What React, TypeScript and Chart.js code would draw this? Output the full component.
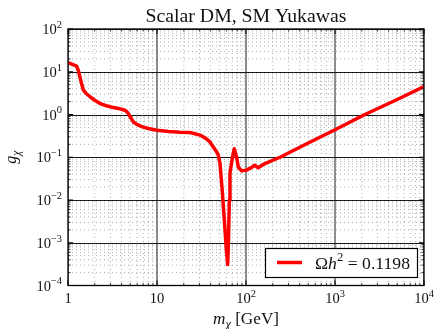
import React, { useEffect, useRef } from 'react';
import { Chart, registerables } from 'chart.js';

Chart.register(...registerables);

// ---- data ----
const massGeV = [
  1.0, 1.12, 1.25, 1.31, 1.36, 1.42, 1.49, 1.6, 1.77, 2.0, 2.29, 2.7, 3.23, 3.8, 4.37, 4.6, 4.76,
  5.05, 5.42, 6.0, 6.73, 8.0, 9.93, 13.5, 18.1, 23.5, 30.4, 35.0, 39.4, 42.9, 46.9, 48.9, 51.0,
  53.7, 57.1, 60.2, 62.3, 63.6, 64.9, 66.1, 70.4, 73.7, 78.5, 81.9, 89.3, 101, 115, 125, 137,
  163, 241, 500, 1000, 2170, 5000, 10000,
];
const coupling = [
  16.3, 14.9, 13.6, 10.5, 7.6, 5.3, 3.7, 3.1, 2.6, 2.15, 1.8, 1.6, 1.46, 1.36, 1.26, 1.15, 1.05,
  0.85, 0.67, 0.58, 0.52, 0.47, 0.43, 0.4, 0.384, 0.38, 0.33, 0.28, 0.228, 0.174, 0.133, 0.111, 0.072,
  0.02, 0.0034, 0.00068, 0.00031, 0.0012, 0.01, 0.043, 0.1, 0.158, 0.1, 0.059, 0.048, 0.05, 0.057, 0.065, 0.057,
  0.071, 0.1, 0.216, 0.44, 1.0, 2.24, 4.5,
];

const xTickExponents = [0, 1, 2, 3, 4];
const xTickBase = ['1', '10', '10', '10', '10'];
const xTickSup = ['', '', '2', '3', '4'];
const yTickExponents = [-4, -3, -2, -1, 0, 1, 2];
const yTickBase = ['10', '10', '10', '10', '10', '10', '10'];
const yTickSup = ['\u22124', '\u22123', '\u22122', '\u22121', '0', '1', '2'];

const titleText = 'Scalar DM, SM Yukawas';
const seriesName = '\u03A9h\u00B2 = 0.1198';

const FAMILY = '"Liberation Serif", "DejaVu Serif", serif';

type Seg = { t: string; rel: number; italic?: boolean; dy?: number };

function segFont(s: Seg, size: number) {
  return `${s.italic ? 'italic ' : ''}${(size * s.rel).toFixed(2)}px ${FAMILY}`;
}

function measureSegs(ctx: CanvasRenderingContext2D, segs: Seg[], size: number) {
  return segs.map((s) => {
    ctx.font = segFont(s, size);
    return ctx.measureText(s.t).width;
  });
}

function fitSize(ctx: CanvasRenderingContext2D, segs: Seg[], target: number) {
  const w = measureSegs(ctx, segs, 10).reduce((a, b) => a + b, 0);
  return (10 * target) / w;
}

function drawSegs(
  ctx: CanvasRenderingContext2D,
  segs: Seg[],
  size: number,
  x: number,
  y: number,
  align: 'left' | 'center' | 'right',
) {
  const widths = measureSegs(ctx, segs, size);
  const total = widths.reduce((a, b) => a + b, 0);
  let cx = align === 'left' ? x : align === 'center' ? x - total / 2 : x - total;
  ctx.textAlign = 'left';
  ctx.textBaseline = 'alphabetic';
  segs.forEach((s, i) => {
    ctx.font = segFont(s, size);
    ctx.fillText(s.t, cx, y + (s.dy || 0) * size);
    cx += widths[i];
  });
}

const decorPlugin = {
  id: 'decor',
  beforeDatasetsDraw(chart: any) {
    const { ctx, chartArea: a } = chart;
    const xs = chart.scales.x;
    const ys = chart.scales.y;
    ctx.save();
    ctx.beginPath();
    ctx.rect(a.left, a.top, a.right - a.left, a.bottom - a.top);
    ctx.clip();
    // minor grid
    ctx.strokeStyle = '#9a9a9a';
    ctx.lineWidth = 0.8;
    ctx.setLineDash([1, 3]);
    for (let i = 0; i < xTickExponents.length - 1; i++) {
      for (let m = 2; m <= 9; m++) {
        const px = xs.getPixelForValue(m * Math.pow(10, xTickExponents[i]));
        ctx.beginPath();
        ctx.moveTo(px, a.top);
        ctx.lineTo(px, a.bottom);
        ctx.stroke();
      }
    }
    for (let i = 0; i < yTickExponents.length - 1; i++) {
      for (let m = 2; m <= 9; m++) {
        const py = ys.getPixelForValue(m * Math.pow(10, yTickExponents[i]));
        ctx.beginPath();
        ctx.moveTo(a.left, py);
        ctx.lineTo(a.right, py);
        ctx.stroke();
      }
    }
    // major grid
    ctx.setLineDash([]);
    ctx.strokeStyle = '#1a1a1a';
    ctx.lineWidth = 1;
    xTickExponents.forEach((e) => {
      const px = xs.getPixelForValue(Math.pow(10, e));
      ctx.beginPath();
      ctx.moveTo(px, a.top);
      ctx.lineTo(px, a.bottom);
      ctx.stroke();
    });
    yTickExponents.forEach((e) => {
      const py = Math.round(ys.getPixelForValue(Math.pow(10, e))) + 0.5;
      ctx.beginPath();
      ctx.moveTo(a.left, py);
      ctx.lineTo(a.right, py);
      ctx.stroke();
    });
    ctx.restore();
  },
  afterDatasetsDraw(chart: any) {
    const { ctx, chartArea: a } = chart;
    const xs = chart.scales.x;
    const ys = chart.scales.y;
    ctx.save();
    // tick marks (inward, all sides)
    ctx.strokeStyle = '#000';
    const tick = (x1: number, y1: number, x2: number, y2: number, w: number) => {
      ctx.lineWidth = w;
      ctx.beginPath();
      ctx.moveTo(x1, y1);
      ctx.lineTo(x2, y2);
      ctx.stroke();
    };
    for (let i = 0; i < xTickExponents.length; i++) {
      const e = xTickExponents[i];
      const px = xs.getPixelForValue(Math.pow(10, e));
      tick(px, a.bottom, px, a.bottom - 5, 1);
      tick(px, a.top, px, a.top + 5, 1);
      if (i < xTickExponents.length - 1) {
        for (let m = 2; m <= 9; m++) {
          const q = xs.getPixelForValue(m * Math.pow(10, e));
          tick(q, a.bottom, q, a.bottom - 2.5, 0.8);
          tick(q, a.top, q, a.top + 2.5, 0.8);
        }
      }
    }
    for (let i = 0; i < yTickExponents.length; i++) {
      const e = yTickExponents[i];
      const py = ys.getPixelForValue(Math.pow(10, e));
      tick(a.left, py, a.left + 5, py, 1);
      tick(a.right, py, a.right - 5, py, 1);
      if (i < yTickExponents.length - 1) {
        for (let m = 2; m <= 9; m++) {
          const q = ys.getPixelForValue(m * Math.pow(10, e));
          tick(a.left, q, a.left + 2.5, q, 0.8);
          tick(a.right, q, a.right - 2.5, q, 0.8);
        }
      }
    }
    // frame
    ctx.lineWidth = 1.3;
    ctx.strokeRect(a.left, a.top, a.right - a.left, a.bottom - a.top);

    ctx.fillStyle = '#111';
    const tickSize = 14.5;
    // x tick labels
    xTickExponents.forEach((e, i) => {
      const px = xs.getPixelForValue(Math.pow(10, e));
      const segs: Seg[] = [{ t: xTickBase[i], rel: 1 }];
      if (xTickSup[i]) segs.push({ t: xTickSup[i], rel: 0.72, dy: -0.42 });
      drawSegs(ctx, segs, tickSize, px, a.bottom + 17.5, 'center');
    });
    // y tick labels
    yTickExponents.forEach((e, i) => {
      const py = ys.getPixelForValue(Math.pow(10, e));
      const segs: Seg[] = [
        { t: yTickBase[i], rel: 1 },
        { t: yTickSup[i], rel: 0.72, dy: -0.42 },
      ];
      drawSegs(ctx, segs, tickSize, a.left - 6, py + 5, 'right');
    });

    // title
    const titleSegs: Seg[] = [{ t: titleText, rel: 1 }];
    const ts = fitSize(ctx, titleSegs, 201);
    drawSegs(ctx, titleSegs, ts, (a.left + a.right) / 2, 21.5, 'center');

    // x axis label
    const xl: Seg[] = [
      { t: 'm', rel: 1, italic: true },
      { t: '\u03C7', rel: 0.72, italic: true, dy: 0.22 },
      { t: ' [GeV]', rel: 1 },
    ];
    const xls = fitSize(ctx, xl, 66);
    drawSegs(ctx, xl, xls, (a.left + a.right) / 2, 324, 'center');

    // y axis label (rotated)
    const yl: Seg[] = [
      { t: 'g', rel: 1, italic: true },
      { t: '\u03C7', rel: 0.72, italic: true, dy: 0.22 },
    ];
    ctx.save();
    ctx.translate(16, (a.top + a.bottom) / 2);
    ctx.rotate(-Math.PI / 2);
    drawSegs(ctx, yl, 16, 0, 0, 'center');
    ctx.restore();

    // legend
    const lx = 265, ly = 248, lw = 152, lh = 29;
    ctx.fillStyle = '#fff';
    ctx.fillRect(lx, ly, lw, lh);
    ctx.strokeStyle = '#000';
    ctx.lineWidth = 1.2;
    ctx.strokeRect(lx + 0.5, ly + 0.5, lw, lh);
    ctx.strokeStyle = '#ff0000';
    ctx.lineWidth = 3.5;
    ctx.beginPath();
    ctx.moveTo(277, 262.5);
    ctx.lineTo(302, 262.5);
    ctx.stroke();
    ctx.fillStyle = '#111';
    const legSegs: Seg[] = [
      { t: '\u03A9', rel: 1 },
      { t: 'h', rel: 1, italic: true },
      { t: '2', rel: 0.72, dy: -0.4 },
      { t: seriesName.slice(3), rel: 1 },
    ];
    const lsz = fitSize(ctx, legSegs, 95);
    drawSegs(ctx, legSegs, lsz, 315, 268.5, 'left');
    ctx.restore();
  },
};

export default function App() {
  const ref = useRef<HTMLCanvasElement | null>(null);
  useEffect(() => {
    document.body.style.margin = '0';
    const canvas = ref.current;
    if (!canvas) return;
    const chart = new Chart(canvas, {
      type: 'line',
      data: {
        datasets: [
          {
            label: seriesName,
            data: massGeV.map((m, i) => ({ x: m, y: coupling[i] })),
            borderColor: '#ff0000',
            backgroundColor: '#ff0000',
            borderWidth: 3.5,
            pointRadius: 0,
            tension: 0,
            borderJoinStyle: 'round',
            borderCapStyle: 'butt',
            fill: false,
          },
        ],
      },
      options: {
        responsive: false,
        maintainAspectRatio: false,
        animation: false,
        events: [],
        layout: { padding: { left: 68, right: 11, top: 29, bottom: 43.5 } },
        scales: {
          x: { type: 'logarithmic', min: 1, max: 10000, display: false },
          y: { type: 'logarithmic', min: 0.0001, max: 100, display: false },
        },
        plugins: {
          legend: { display: false },
          title: { display: false },
          tooltip: { enabled: false },
        },
      },
      plugins: [decorPlugin],
    } as any);
    return () => chart.destroy();
  }, []);
  return (
    <div style={{ position: 'fixed', left: 0, top: 0, width: 435, height: 329, background: '#fff' }}>
      <canvas ref={ref} width={435} height={329} style={{ display: 'block' }} />
    </div>
  );
}
